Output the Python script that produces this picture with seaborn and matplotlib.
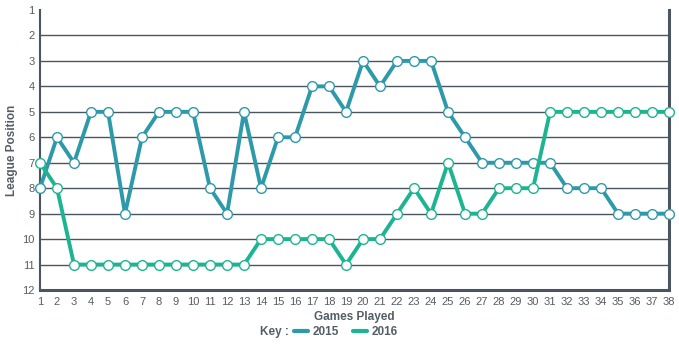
import matplotlib
matplotlib.use("Agg")
import matplotlib.pyplot as plt
import seaborn as sns
import pandas as pd
from matplotlib.lines import Line2D

games = list(range(1, 39))
pos_2015 = [8, 6, 7, 5, 5, 9, 6, 5, 5, 5, 8, 9, 5, 8, 6, 6, 4, 4, 5, 3,
            4, 3, 3, 3, 5, 6, 7, 7, 7, 7, 7, 8, 8, 8, 9, 9, 9, 9]
pos_2016 = [7, 8, 11, 11, 11, 11, 11, 11, 11, 11, 11, 11, 11, 10, 10, 10, 10, 10, 11, 10,
            10, 9, 8, 9, 7, 9, 9, 8, 8, 8, 5, 5, 5, 5, 5, 5, 5, 5]
series = ["2015", "2016"]
colors = {"2015": "#2e9aa9", "2016": "#1db591"}

df = pd.concat([
    pd.DataFrame({"Game": games, "Position": pos_2015, "Season": "2015"}),
    pd.DataFrame({"Game": games, "Position": pos_2016, "Season": "2016"}),
])

sns.set_style("white")
plt.rcParams['font.family'] = ['Liberation Sans', 'DejaVu Sans']

fig = plt.figure(figsize=(6.79, 3.5), dpi=100)
ax = fig.add_axes([0.0589, 0.1714, 0.9265, 0.8])

grid_c = "#4a5560"
for y in range(2, 12):
    ax.axhline(y, color=grid_c, lw=1.0, zorder=0)

for s in series:
    sub = df[df.Season == s]
    sns.lineplot(data=sub, x="Game", y="Position", ax=ax, color=colors[s], lw=2.8,
                 marker="o", markersize=7, markerfacecolor="white",
                 markeredgecolor=colors[s], markeredgewidth=1.0, legend=False,
                 clip_on=False, zorder=3)

ax.set_xlim(1, 38)
ax.set_ylim(12, 1)
ax.set_xticks(games)
ax.set_yticks(range(1, 13))
ax.tick_params(axis="both", labelsize=8, colors="#555d66", length=3, width=1, pad=2)
ax.tick_params(axis="x", direction="out")
ax.tick_params(axis="y", length=0, pad=4)

ax.spines["top"].set_visible(False)
ax.spines["left"].set_color(grid_c)
ax.spines["left"].set_linewidth(1.5)
ax.spines["right"].set_color(grid_c)
ax.spines["right"].set_linewidth(2.2)
ax.spines["bottom"].set_color(grid_c)
ax.spines["bottom"].set_linewidth(2.2)

ax.set_xlabel("Games Played", fontsize=8.5, fontweight="bold", color="#555d66", labelpad=3)
ax.set_ylabel("League Position", fontsize=8.5, fontweight="bold", color="#555d66", labelpad=2.5)

handles = [Line2D([0], [0], color=colors[s], lw=3) for s in series]
fig.text(260 / 679, 0.052, "Key :", fontsize=8.5, fontweight="bold", color="#555d66",
         ha="left", va="center")
leg = fig.legend(handles, series, loc="center left", bbox_to_anchor=(294 / 679, 0.052),
                 ncol=2, frameon=False, handlelength=1.2, handletextpad=0.35,
                 columnspacing=1.2, borderpad=0, borderaxespad=0,
                 prop={"size": 8.5, "weight": "bold"})
for t in leg.get_texts():
    t.set_color("#555d66")

fig.savefig("out.png", dpi=100)
